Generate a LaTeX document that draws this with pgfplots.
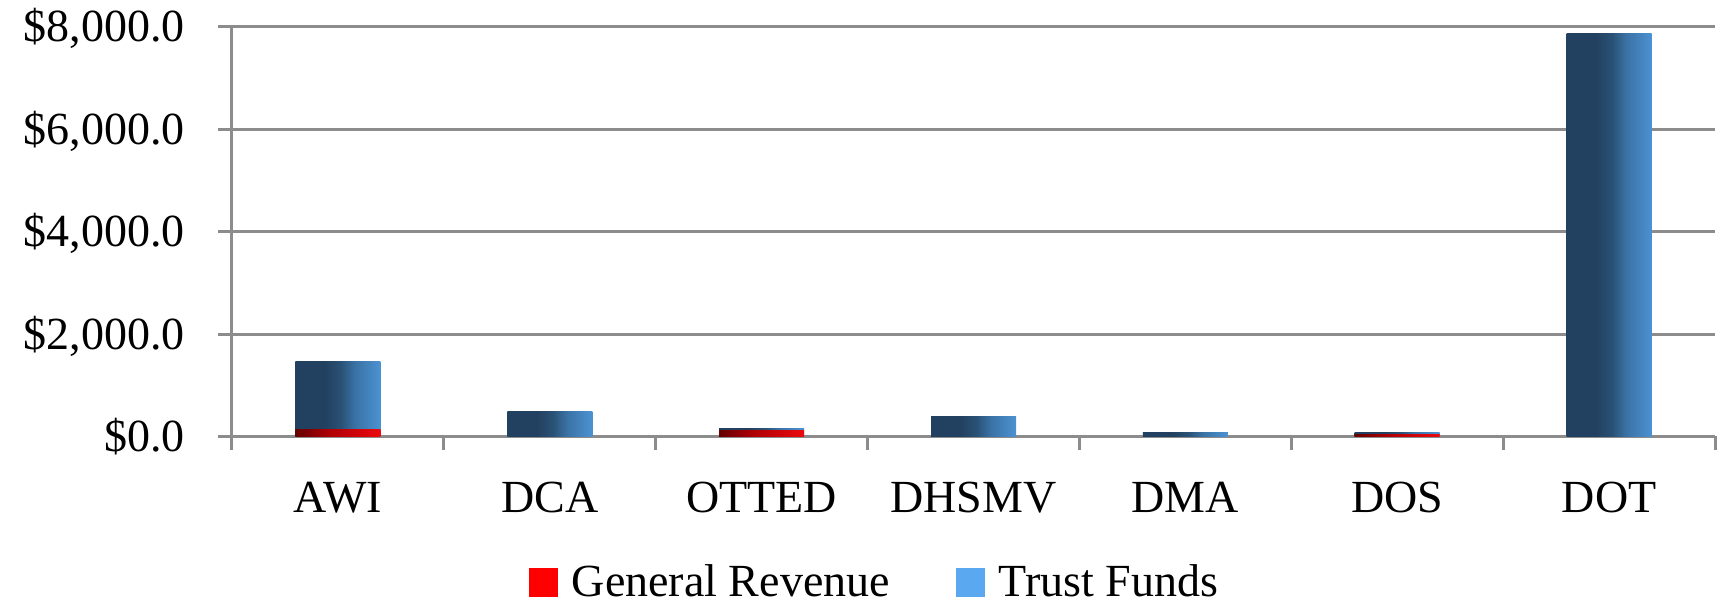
\documentclass[border=0pt]{standalone}
\usepackage{pgfplots}
\pgfplotsset{compat=1.18}
\usepackage{fontspec}
\setmainfont{Liberation Serif}
\definecolor{bA}{RGB}{34,64,95}
\definecolor{bB}{RGB}{42,82,118}
\definecolor{bC}{RGB}{58,114,165}
\definecolor{bD}{RGB}{76,146,210}
\definecolor{rA}{RGB}{100,0,0}
\definecolor{rB}{RGB}{175,0,5}
\definecolor{rC}{RGB}{235,10,15}
\definecolor{gridgray}{RGB}{140,140,140}
\definecolor{legred}{RGB}{255,0,0}
\definecolor{legblue}{RGB}{90,168,240}
\pgfdeclarehorizontalshading{bluebar}{100bp}{color(0bp)=(bA); color(25bp)=(bA); color(42bp)=(bA); color(52bp)=(bB); color(60bp)=(bC); color(75bp)=(bD); color(100bp)=(bD)}
\pgfdeclarehorizontalshading{redbar}{100bp}{color(0bp)=(rA); color(25bp)=(rA); color(45bp)=(rB); color(75bp)=(rC); color(100bp)=(rC)}
\pgfplotsset{
  tfbar/.style={draw=none, shade, shading=bluebar, forget plot},
  grbar/.style={draw=none, shade, shading=redbar, forget plot},
}
\begin{document}
\begin{tikzpicture}
\begin{axis}[
  scale only axis, width=741.5pt, height=204.9pt,
  xmin=-0.5, xmax=6.5, ymin=0, ymax=8000,
  ybar=0pt, bar width=42.5pt, bar shift=0pt,
  axis x line*=bottom, axis y line*=left,
  axis line style={draw=gridgray, line width=1.5pt},
  ytick={0,2000,4000,6000,8000},
  yticklabels={{\$0.0},{\$2,000.0},{\$4,000.0},{\$6,000.0},{\$8,000.0}},
  xtick={0,...,6}, xticklabels={AWI,DCA,OTTED,DHSMV,DMA,DOS,DOT},
  minor xtick={-0.5,0.5,...,6.5},
  tick align=outside,
  major tick length=7pt, minor tick length=7pt,
  every major x tick/.style={draw=none},
  every minor x tick/.style={draw=gridgray, line width=1.5pt},
  every major y tick/.style={draw=gridgray, line width=1.5pt},
  ymajorgrids, grid style={draw=gridgray, line width=1.5pt},
  tick label style={font=\fontsize{23}{27}\selectfont},
  yticklabel style={anchor=base east, inner sep=0pt, xshift=-16.5pt, yshift=-7.6pt},
  xticklabel style={anchor=north, inner sep=0pt, yshift=-15.5pt},
  legend style={at={(0.434,-0.355)}, anchor=center, draw=none, fill=none,
    legend columns=2, font=\fontsize{23}{27}\selectfont,
    /tikz/every odd column/.append style={column sep=5pt},
    /tikz/every even column/.append style={column sep=31pt}},
  legend cell align=left,
]
% Trust Funds totals (stack top) and General Revenue portion, in $ millions
\addplot[tfbar] coordinates {(0,1470)};
\addplot[tfbar] coordinates {(1,490)};
\addplot[tfbar] coordinates {(2,160)};
\addplot[tfbar] coordinates {(3,390)};
\addplot[tfbar] coordinates {(4,75)};
\addplot[tfbar] coordinates {(5,80)};
\addplot[tfbar] coordinates {(6,7870)};
\addplot[grbar] coordinates {(0,130)};
\addplot[grbar] coordinates {(2,120)};
\addplot[grbar] coordinates {(5,35)};
\addlegendimage{legend image code/.code={\fill[legred] (0pt,-7pt) rectangle (14pt,7pt);}}
\addlegendentry{General Revenue}
\addlegendimage{legend image code/.code={\fill[legblue] (0pt,-7pt) rectangle (14pt,7pt);}}
\addlegendentry{Trust Funds}
\coordinate (sw) at (rel axis cs:0,0);
\coordinate (ne) at (rel axis cs:1,1);
\end{axis}
\pgfresetboundingbox
\path[use as bounding box] ([xshift=-116pt,yshift=-84.25pt]sw) rectangle ([xshift=3.5pt,yshift=13.35pt]ne);
\end{tikzpicture}
\end{document}
